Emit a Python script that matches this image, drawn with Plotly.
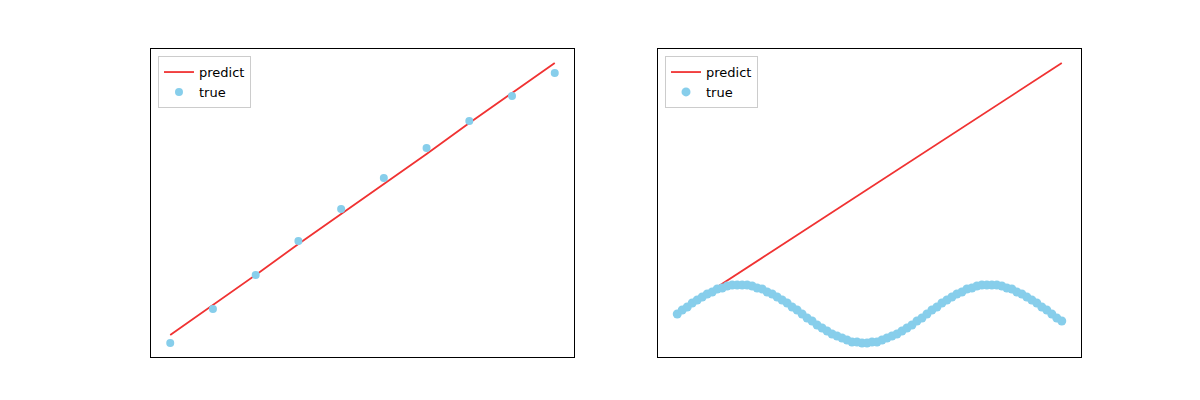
import plotly.graph_objects as go
from plotly.subplots import make_subplots

# ---- left panel: 10 samples ----
left_x = [0, 1, 2, 3, 4, 5, 6, 7, 8, 9]
left_true = [58, 92, 126, 160, 192, 223, 253, 280, 305, 328]
left_pred = [66, 96, 126, 157, 187, 217, 247, 278, 308, 338]

# ---- right panel: dense wavy samples ----
right_x = list(range(78))
right_true = [87, 91, 94, 98, 101, 104, 107, 109, 112, 113, 115, 116, 116, 116, 116, 115, 113, 112, 109, 107,
              104, 101, 98, 94, 91, 87, 83, 80, 76, 73, 70, 67, 65, 63, 61, 59, 59, 58, 58, 59,
              59, 61, 63, 65, 67, 70, 73, 76, 80, 83, 87, 91, 94, 98, 101, 104, 107, 109, 112, 113,
              115, 116, 116, 116, 116, 115, 113, 112, 109, 107, 104, 101, 98, 94, 91, 87, 83, 80]
right_pred_x = [0, 77]
right_pred = [88, 338]

RED = "#f03232"
BLUE = "#87ceeb"

fig = make_subplots(rows=1, cols=2, horizontal_spacing=0.0904)

fig.add_trace(go.Scatter(x=left_x, y=left_pred, mode="lines", name="predict",
                         line=dict(color=RED, width=1.8), legend="legend"), row=1, col=1)
fig.add_trace(go.Scatter(x=left_x, y=left_true, mode="markers", name="true",
                         marker=dict(color=BLUE, size=8), legend="legend"), row=1, col=1)
fig.add_trace(go.Scatter(x=right_pred_x, y=right_pred, mode="lines", name="predict",
                         line=dict(color=RED, width=1.8), legend="legend2"), row=1, col=2)
fig.add_trace(go.Scatter(x=right_x, y=right_true, mode="markers", name="true",
                         marker=dict(color=BLUE, size=9), legend="legend2"), row=1, col=2)

axis_style = dict(showgrid=False, zeroline=False, showticklabels=False, ticks="",
                  showline=True, linecolor="black", linewidth=1, mirror=True)
fig.update_xaxes(**axis_style)
fig.update_yaxes(**axis_style)
fig.update_xaxes(range=[-0.45, 9.45], domain=[0, 0.4548], row=1, col=1)
fig.update_xaxes(range=[-3.85, 80.85], domain=[0.5452, 1], row=1, col=2)
fig.update_yaxes(range=[44, 352])

legend_style = dict(bgcolor="white", bordercolor="#cccccc", borderwidth=1,
                    font=dict(size=13, family="DejaVu Sans"), xanchor="left", yanchor="top",
                    y=0.977, tracegroupgap=0)
fig.update_layout(
    width=1200, height=400,
    margin=dict(l=143, r=127, t=41, b=51),
    plot_bgcolor="white", paper_bgcolor="white",
    font=dict(family="DejaVu Sans", color="black"),
    legend=dict(x=0.0075, **legend_style),
    legend2=dict(x=0.5527, **legend_style),
)

fig.write_html("out.html")
